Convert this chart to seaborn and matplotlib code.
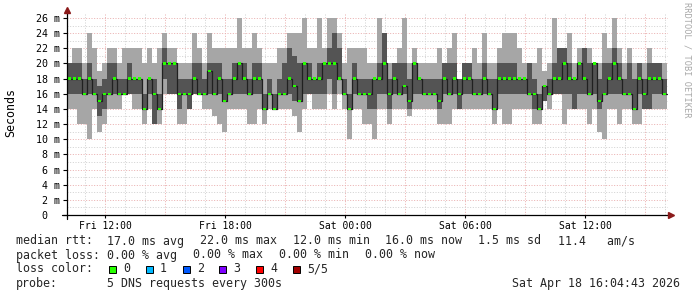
import numpy as np
import pandas as pd
import matplotlib
matplotlib.use("Agg")
import matplotlib.pyplot as plt
import seaborn as sns
from matplotlib.patches import Rectangle
from matplotlib.lines import Line2D

# ---------------- data (15-minute columns, ms) ----------------
start_hour = 10.1          # Fri 10:06 (hours since Fri 00:00)
step_hours = 0.25
ping_min = [14,14,12,12,10,14,11,12,14,14,14,16,16,14,14,12,14,12,12,16,
            16,16,12,12,14,16,16,14,14,13,12,11,14,14,14,14,12,12,14,12,
            14,14,14,14,14,13,11,14,16,14,14,14,16,14,16,14,10,14,14,12,
            12,10,14,14,12,14,14,14,13,14,14,14,14,14,12,12,12,14,14,14,
            14,14,14,14,14,12,14,12,12,14,14,14,14,12,12,15,14,16,16,12,
            14,14,14,14,12,14,11,10,14,14,12,14,14,12,12,14,14,14,14,14]
ping_q1 = [16,16,16,16,16,16,13,14,16,16,16,16,16,16,16,14,16,12,14,18,
           16,16,14,16,14,16,16,16,16,16,16,15,16,16,16,16,16,16,16,14,
           16,14,16,16,16,15,15,16,16,16,16,16,18,16,18,16,14,16,16,16,
           14,14,16,16,14,16,16,16,14,16,16,16,16,16,14,16,16,16,14,16,
           16,16,16,16,16,14,16,16,16,16,16,16,16,14,14,15,16,16,16,16,
           16,14,16,16,16,16,14,16,16,16,16,16,16,14,16,14,14,16,16,16]
median = [18,18,18,16,18,16,15,16,16,18,16,16,18,18,18,14,18,16,14,20,
          20,20,16,16,16,18,16,16,19,16,18,15,16,18,20,18,16,18,18,14,
          16,14,16,16,18,17,15,20,18,18,18,20,20,20,18,16,14,18,16,16,
          16,18,18,20,16,18,16,17,15,20,18,16,16,16,15,18,16,18,16,18,
          18,16,16,18,16,14,18,18,18,18,18,18,16,16,14,17,16,18,18,20,
          18,18,20,18,16,20,15,16,18,20,18,16,16,14,18,16,18,18,18,16]
ping_q3 = [20,20,20,18,20,18,17,18,20,20,18,18,20,18,18,16,18,18,16,22,
           20,20,18,18,18,20,20,18,20,20,20,18,18,20,20,20,18,20,20,16,
           18,16,18,20,22,21,20,20,20,18,20,20,22,24,22,18,16,20,18,18,
           18,18,20,24,18,20,20,20,18,20,18,18,18,18,18,20,20,20,18,20,
           20,18,18,20,18,18,20,20,20,20,18,18,20,18,16,17,18,20,22,22,
           20,18,20,22,20,20,18,20,20,22,20,18,20,18,20,18,20,20,20,18]
ping_max = [20,22,22,20,24,22,19,20,22,22,20,22,22,22,22,20,22,20,22,24,
            22,22,20,20,20,24,22,20,24,22,22,22,22,22,26,22,22,24,22,20,
            20,20,22,22,24,24,24,26,22,22,26,22,26,26,24,20,22,22,22,22,
            20,20,26,24,20,20,22,26,20,22,20,20,20,20,22,20,22,24,18,20,
            20,22,20,24,20,20,22,24,24,24,22,20,20,20,22,19,20,26,22,22,
            24,20,22,22,22,20,20,24,22,26,22,20,22,20,20,20,22,20,20,20]

y_ticks = list(range(0, 27, 2))
y_tick_labels = ["0  "] + [f"{v} m" for v in y_ticks[1:]]
x_ticks = [12, 18, 24, 30, 36]
x_tick_labels = ["Fri 12:00", "Fri 18:00", "Sat 00:00", "Sat 06:00", "Sat 12:00"]

legend_line1 = [("median rtt:", 16), ("17.0 ms avg", 107), ("22.0 ms max", 200),
                ("12.0 ms min", 293), ("16.0 ms now", 385), ("1.5 ms sd", 478),
                ("11.4   am/s", 558)]
legend_line2 = [("packet loss:", 16), ("0.00 % avg", 107), ("0.00 % max", 193),
                ("0.00 % min", 279), ("0.00 % now", 365)]
loss_labels = ["0", "1", "2", "3", "4", "5/5"]
loss_colors = ["#26ff00", "#00b8ff", "#0059ff", "#7e00ff", "#ff0000", "#a10000"]
probe_text = "5 DNS requests every 300s"
stamp_text = "Sat Apr 18 16:04:43 2026"

# ---------------- style ----------------
sns.set_theme(style="white")
plt.rcParams['font.family'] = ['DejaVu Sans Mono', 'DejaVu Sans']
plt.rcParams['lines.scale_dashes'] = False

W, H = 697, 297
fig = plt.figure(figsize=(W / 100, H / 100), dpi=100)
fig.patch.set_facecolor("white")

def fx(px):
    return px / W

def fy(py):
    return 1 - py / H

X0, X1, YB, YT = 67, 668, 215, 13
ax = fig.add_axes([fx(X0), fy(YB), (X1 - X0) / W, (YB - YT) / H])
ax.set_facecolor("white")
xmin = start_hour
xmax = start_hour + (X1 - X0) / 20.0
ymax = (YB - YT) / 7.577
ax.set_xlim(xmin, xmax)
ax.set_ylim(0, ymax)

# grid (dotted)
dot = (0, (0.72, 1.2))
for h in range(11, 41):
    major = (h % 3 == 0)
    ax.axvline(h, color="#eab0b0" if major else "#d2d2d2", lw=0.72,
               ls=dot, zorder=0)
for v in range(1, 27):
    major = (v % 2 == 0)
    ax.axhline(v, color="#eab0b0" if major else "#d2d2d2", lw=0.72,
               ls=dot, zorder=0)

n = len(median)
edges = start_hour + step_hours * np.arange(n + 1)
centers = edges[:-1] + step_hours / 2
lo = np.array(ping_min, float)
q1 = np.array(ping_q1, float)
md = np.array(median, float)
q3 = np.array(ping_q3, float)
hi = np.array(ping_max, float)

ax.stairs(hi, edges, baseline=lo, fill=True, color="#a6a6a6", lw=0, zorder=2)
ax.stairs(q3, edges, baseline=q1, fill=True, color="#545454", lw=0, zorder=3)

df = pd.DataFrame({"t": edges, "median": np.r_[md, md[-1]]})
sns.lineplot(data=df, x="t", y="median", drawstyle="steps-post",
             color="#202020", lw=0.9, estimator=None, ax=ax, zorder=4)
sw = 0.15
ax.bar(centers, 2 * sw, bottom=md - sw, width=step_hours * 0.75,
       color=loss_colors[0], lw=0, zorder=5)

for s in ax.spines.values():
    s.set_visible(False)
ax.set_xlabel("")
ax.set_ylabel("")
ax.set_yticks(y_ticks)
ax.set_yticklabels(y_tick_labels)
ax.set_xticks(x_ticks)
ax.set_xticklabels(x_tick_labels)
ax.tick_params(axis="y", length=3, width=0.8, pad=2, labelsize=7.2,
               colors="black", left=True)
ax.tick_params(axis="x", length=2, width=0.8, pad=2, labelsize=7.0,
               colors="black", bottom=True)

# axis lines with arrows
fig.add_artist(Line2D([fx(62), fx(669)], [fy(215), fy(215)], color="black",
                      lw=0.9, transform=fig.transFigure))
fig.add_artist(Line2D([fx(67), fx(67)], [fy(219), fy(11)], color="black",
                      lw=0.9, transform=fig.transFigure))
fig.add_artist(Line2D([fx(671)], [fy(215)], marker=">", markersize=4.2,
                      color="#8b1a1a", lw=0, transform=fig.transFigure))
fig.add_artist(Line2D([fx(67)], [fy(10)], marker="^", markersize=4.2,
                      color="#8b1a1a", lw=0, transform=fig.transFigure))

fig.text(fx(11), fy(112), "Seconds", rotation=90, ha="center", va="center",
         fontsize=8.4, color="black")
fig.text(fx(687), fy(60), "RRDTOOL / TOBI OETIKER", rotation=270,
         ha="center", va="center", fontsize=6.2, color="#a8a8a8")

fs = 8.4
for s, x in legend_line1:
    fig.text(fx(x), fy(241), s, ha="left", va="center", fontsize=fs)
for s, x in legend_line2:
    fig.text(fx(x), fy(255), s, ha="left", va="center", fontsize=fs)
fig.text(fx(16), fy(269), "loss color:", ha="left", va="center", fontsize=fs)
sw_x = [109, 146, 183, 219, 256, 293]
for lab, col, x in zip(loss_labels, loss_colors, sw_x):
    fig.add_artist(Rectangle((fx(x), fy(273)), 7 / W, 7 / H, facecolor=col,
                             edgecolor="black", lw=0.7,
                             transform=fig.transFigure))
    fig.text(fx(x + 14), fy(269), lab, ha="left", va="center", fontsize=fs)
fig.text(fx(16), fy(283), "probe:", ha="left", va="center", fontsize=fs)
fig.text(fx(107), fy(283), probe_text, ha="left", va="center", fontsize=fs)
fig.text(fx(680), fy(283), stamp_text, ha="right", va="center", fontsize=fs)

fig.savefig("out.png", dpi=100, facecolor="white")
